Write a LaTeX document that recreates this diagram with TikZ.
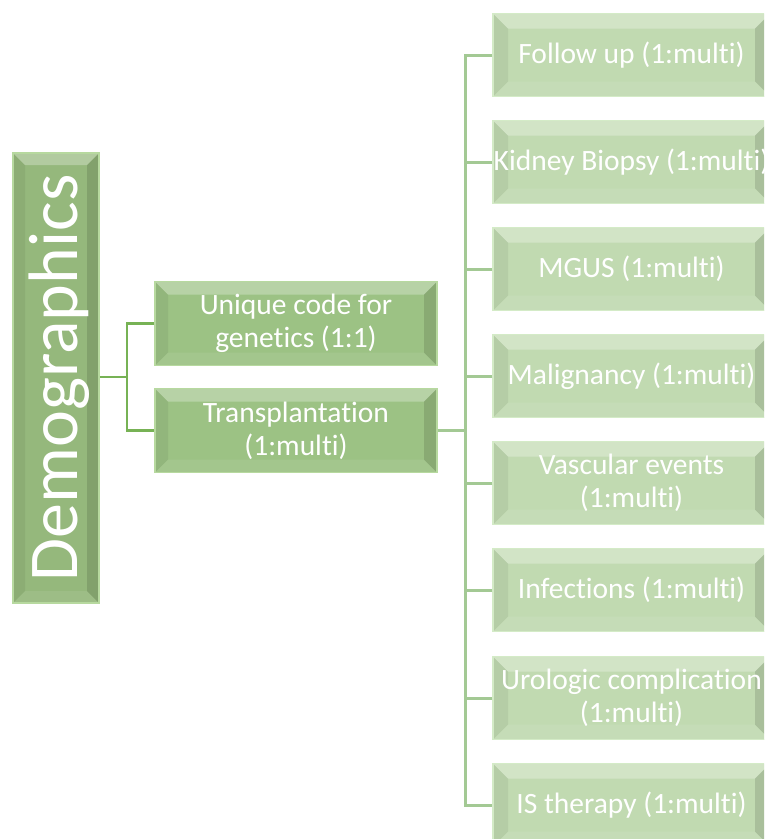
\documentclass[tikz,border=0pt]{standalone}
\usepackage{fontspec}
\setmainfont{Carlito}[Ligatures={NoCommon}]
\usetikzlibrary{calc}
\definecolor{demfill}{HTML}{95B87C}
\definecolor{midfill}{HTML}{9CC284}
\definecolor{rfill}{HTML}{C1DAB1}
\definecolor{lline}{HTML}{77B255}
\definecolor{rline}{HTML}{A3C994}
\definecolor{rimdark}{HTML}{B7D99F}
\definecolor{rimlight}{HTML}{D4EBC7}
\tikzset{
  bevelbox/.style={rectangle, inner sep=0pt, text=white, align=center, line width=1.5pt,
    path picture={
      \coordinate (pNW) at (path picture bounding box.north west);
      \coordinate (pNE) at (path picture bounding box.north east);
      \coordinate (pSW) at (path picture bounding box.south west);
      \coordinate (pSE) at (path picture bounding box.south east);
      \coordinate (iNW) at ($(pNW)+(#1,-#1)$);
      \coordinate (iNE) at ($(pNE)+(-#1,-#1)$);
      \coordinate (iSW) at ($(pSW)+(#1,#1)$);
      \coordinate (iSE) at ($(pSE)+(-#1,#1)$);
      \fill[white,opacity=0.28] (pNW)--(pNE)--(iNE)--(iNW)--cycle;
      \fill[black,opacity=0.06] (pNW)--(iNW)--(iSW)--(pSW)--cycle;
      \fill[black,opacity=0.12] (pNE)--(iNE)--(iSE)--(pSE)--cycle;
      \fill[white,opacity=0.08] (pSW)--(iSW)--(iSE)--(pSE)--cycle;
    }},
  demstyle/.style={bevelbox=12pt, fill=demfill, draw=rimdark, minimum width=86pt, minimum height=450pt,
    font=\fontsize{70}{82}\selectfont},
  midstyle/.style={bevelbox=13pt, fill=midfill, draw=rimdark, minimum width=282pt, minimum height=84pt,
    font=\fontsize{29.5}{33}\selectfont},
  rstyle/.style={bevelbox=15pt, fill=rfill, draw=rimlight, minimum width=277pt, minimum height=83pt,
    font=\fontsize{29.5}{33}\selectfont},
  lconn/.style={draw=lline, line width=2.5pt},
  rconn/.style={draw=rline, line width=3pt},
}
\begin{document}
\begin{tikzpicture}[x=1pt,y=-1pt]
\useasboundingbox (0,0) rectangle (764,839);
\fill[white] (0,0) rectangle (764,839);
\clip (0,0) rectangle (764,839);

\node[demstyle] (dem) at (56,378) {\hspace*{6pt}\rotatebox{90}{Demographics}};

\node[midstyle] (uniq) at (296,323.5) {Unique code for\\genetics (1:1)};
\node[midstyle] (trans) at (296,430.5) {Transplantation\\(1:multi)};

\node[rstyle] (r1) at (631.5,55) {Follow up (1:multi)};
\node[rstyle] (r2) at (631.5,162) {Kidney Biopsy (1:multi)};
\node[rstyle] (r3) at (631.5,269) {MGUS (1:multi)};
\node[rstyle] (r4) at (631.5,376) {Malignancy (1:multi)};
\node[rstyle] (r5) at (631.5,483) {Vascular events\\(1:multi)};
\node[rstyle] (r6) at (631.5,590) {Infections (1:multi)};
\node[rstyle] (r7) at (631.5,698) {Urologic complication\\(1:multi)};
\node[rstyle] (r8) at (631.5,805) {IS therapy (1:multi)};

\coordinate (j1) at (127,377);
\coordinate (j2) at (465,430);

\draw[lconn] (dem.east |- j1) -- (j1);
\draw[lconn] (uniq.west) -- (uniq.west -| j1) -- (trans.west -| j1) -- (trans.west);

\draw[rconn] (trans.east |- j2) -- (j2);
\draw[rconn] (r1.west) -- (r1.west -| j2) -- (r8.west -| j2) -- (r8.west);
\foreach \i in {2,...,7} {
  \draw[rconn] (r\i.west) -- (r\i.west -| j2);
}
\end{tikzpicture}
\end{document}
